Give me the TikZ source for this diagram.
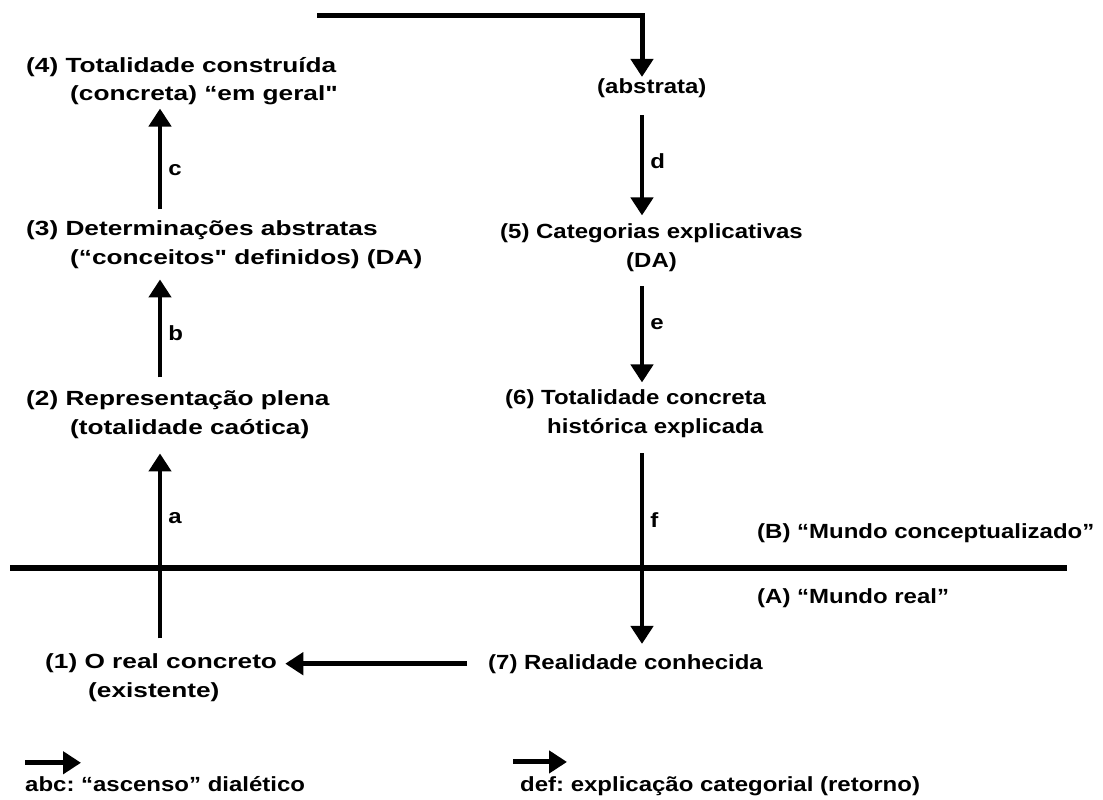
\documentclass[tikz,border=0pt]{standalone}
\usepackage{fontspec}
\setmainfont{Liberation Sans}[FakeStretch=1.17]
\newfontfamily\widefont{Liberation Sans}[FakeStretch=1.28]
\frenchspacing
\usetikzlibrary{calc, positioning}
\usetikzlibrary{arrows.meta}
\tikzset{
  txt/.style={inner sep=0pt, anchor=base west, align=left, font=\fontsize{20.5bp}{28.5bp}\selectfont\bfseries},
  wtxt/.style={txt, font=\fontsize{20.5bp}{28.5bp}\widefont\bfseries},
  arr/.style={line width=4.5bp, -{Triangle[length=18bp, width=22bp]}},
  lbl/.style={inner sep=0pt, anchor=west, xshift=6bp, font=\fontsize{20.5bp}{24bp}\selectfont\bfseries}
}
\begin{document}
\begin{tikzpicture}[x=1bp, y=-1bp]
\def\W{1103}
\def\H{800}
\fill[white] (0,0) rectangle (\W,\H);
\useasboundingbox (0,0) rectangle (\W,\H);

\coordinate (colL) at (160,0);
\coordinate (colR) at (642,0);
\coordinate (start4) at (317,16);
\coordinate (divL) at (10,568);
\coordinate (divR) at (1067,568);

\node[wtxt] (n4) at (26,101) {(4) Totalidade construída\\\hspace*{44bp}(concreta) “em geral"};
\node[wtxt] (n3) at (26,264) {(3) Determinações abstratas\\\hspace*{44bp}(“conceitos" definidos) (DA)};
\node[wtxt] (n2) at (26,434) {(2) Representação plena\\\hspace*{44bp}(totalidade caótica)};
\node[wtxt] (n1) at (45,697) {(1) O real concreto\\\hspace*{43bp}(existente)};
\node[txt] (abs) at (597,94) {(abstrata)};
\node[txt, align=center] (n5) at (500,267) {(5) Categorias explicativas\\(DA)};
\node[txt] (n6) at (505,433) {(6) Totalidade concreta\\\hspace*{42bp}histórica explicada};
\node[txt] (n7) at (488,669) {(7) Realidade conhecida};
\node[txt] (mB) at (757,538) {(B) “Mundo conceptualizado"};
\node[txt] (mA) at (757,603) {(A) “Mundo real”};
\node[txt] (leg1) at (25,791) {abc: “ascenso" dialético};
\node[txt] (leg2) at (520,791) {def: explicação categorial (retorno)};

\draw[line width=6bp] (divL) -- (divR);

\draw[arr, line width=5bp, shorten >=2bp] (start4) -- (start4 -| colR) -- (abs.north -| colR);

\draw[arr, shorten <=15bp, shorten >=15bp] (n1.north -| colL) -- (n2.south -| colL) node[lbl, pos=0.63] {a};
\draw[arr, shorten <=13bp, shorten >=11bp] (n2.north -| colL) -- (n3.south -| colL) node[lbl, pos=0.47] {b};
\draw[arr, shorten <=11bp, shorten >=3bp] (n3.north -| colL) -- (n4.south -| colL) node[lbl, pos=0.44] {c};
\draw[arr, shorten <=17bp, shorten >=8bp] (abs.south -| colR) -- (n5.north -| colR) node[lbl, pos=0.5] {d};
\draw[arr, shorten <=15bp, shorten >=7bp] (n5.south -| colR) -- (n6.north -| colR) node[lbl, pos=0.45] {e};
\draw[arr, shorten <=16bp, shorten >=10bp] (n6.south -| colR) -- (n7.north -| colR) node[lbl, pos=0.38] {f};
\draw[arr, shorten <=21bp, shorten >=8bp] (n7.west) -- (n7.west -| n1.east);

\draw[arr, line width=5bp] ([yshift=13bp]leg1.north west) -- ++(56,0);
\draw[arr, line width=5bp] ([xshift=-7bp, yshift=14bp]leg2.north west) -- ++(54,0);
\end{tikzpicture}
\end{document}
